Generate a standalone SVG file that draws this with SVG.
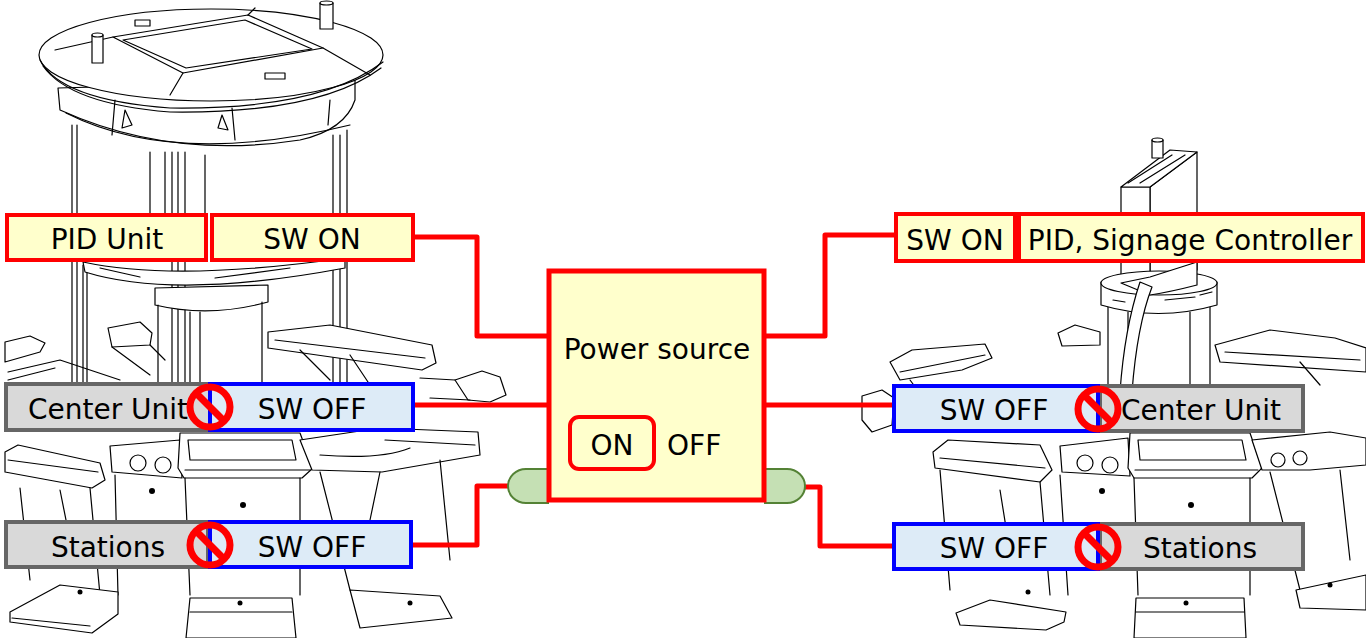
<svg xmlns="http://www.w3.org/2000/svg" width="1366" height="638" viewBox="0 0 1366 638">
<style>
.ln{fill:none;stroke:#000;stroke-width:1.2;stroke-linejoin:round;stroke-linecap:round}
.lw{fill:#fff;stroke:#000;stroke-width:1.2;stroke-linejoin:round}
.wire{fill:none;stroke:#f00;stroke-width:5;stroke-linejoin:round}
.on{fill:#FFFFCC;stroke:#f00;stroke-width:4}
.off{fill:#DDEBF7;stroke:#00f;stroke-width:4}
.unit{fill:#D9D9D9;stroke:#666;stroke-width:4}
.t{font-family:"DejaVu Sans","Liberation Sans",sans-serif;font-size:28px;fill:#000;text-anchor:middle}
.tab{fill:#C5E0B4;stroke:#548235;stroke-width:2}
</style>
<defs>
<g id="no"><circle r="20" fill="none" stroke="#f00" stroke-width="7"/><line x1="-14" y1="-14" x2="14" y2="14" stroke="#f00" stroke-width="7"/></g>
</defs>
<rect width="1366" height="638" fill="#fff"/>

<g id="machine-left">
<!-- columns -->
<path class="ln" d="M72,125 V385 M77,125 V385 M83,265 V385 M87,265 V385 M333,135 V385 M340,135 V385 M347,130 V385"/>
<path class="ln" d="M150,152 V215 M165,152 V215 M172,152 V385 M178,152 V385 M185,152 V385 M205,155 V215"/>
<!-- top disk -->
<path class="lw" d="M58,88 L60,110 Q170,160 300,140 Q345,130 355,100 L355,80 Z"/>
<path class="ln" d="M66,113 Q175,168 350,125"/>
<ellipse class="lw" cx="211" cy="55" rx="172" ry="46"/>
<path class="ln" d="M40,60 Q60,100 170,108 Q320,110 383,62"/>
<path class="ln" d="M43,66 Q70,104 170,112 Q320,114 381,68"/>
<path class="lw" d="M113,37 L248,15 L323,48 L183,73 Z"/>
<path class="ln" d="M123,40 L245,20 L312,49 L186,68 Z M55,50 L113,37 M323,48 L370,75 M248,15 L255,8 M183,73 L170,95"/>
<rect class="lw" x="135" y="20" width="15" height="6"/>
<rect class="lw" x="265" y="73" width="20" height="6"/>
<rect class="lw" x="92" y="35" width="11" height="28"/>
<ellipse class="lw" cx="97.5" cy="35" rx="5.5" ry="2"/>
<rect class="lw" x="320" y="3" width="13" height="26"/>
<ellipse class="lw" cx="326.5" cy="3" rx="6.5" ry="2"/>
<path class="ln" d="M115,100 L112,135 M125,110 L132,125 L122,128 Z M232,108 L235,140 M222,115 L218,128 L228,130 Z M330,100 L328,125"/>
<!-- middle ring -->
<path class="lw" d="M83,262 Q175,282 345,258 L345,268 Q175,300 85,272 Z"/>
<path class="ln" d="M100,268 L140,277 M215,278 L290,268"/>
<path class="lw" d="M155,288 L268,285 L268,302 Q210,318 155,305 Z"/>
<path class="ln" d="M158,305 V385 M262,302 V385 M190,312 V385 M200,312 V385"/>
<!-- station tops row 1 -->
<path class="lw" d="M5,342 L30,336 L45,343 L40,352 L5,362 Z"/>
<path class="ln" d="M8,372 L60,360 L120,380 M8,380 L55,368"/>
<path class="lw" d="M108,328 L140,322 L152,333 L150,345 L112,347 Z"/>
<path class="ln" d="M112,347 L150,375 M150,345 L165,360"/>
<path class="lw" d="M268,332 L330,325 L432,345 L436,363 L422,370 L268,348 Z"/>
<path class="ln" d="M275,340 L425,358 M300,350 L330,380 M350,355 L370,385"/>
<path class="lw" d="M455,380 L482,371 L500,377 L506,395 L490,402 L468,400 Z"/>
<path class="ln" d="M420,378 L455,380 M430,398 L470,400"/>
<!-- station row 2 -->
<path class="lw" d="M5,452 L18,445 L100,463 L105,480 L92,488 L5,472 Z"/>
<path class="ln" d="M8,460 L98,472 M20,488 L30,580 M90,488 L100,595"/>
<path class="lw" d="M110,446 L180,440 L182,478 L112,472 Z"/>
<circle class="ln" cx="138" cy="463" r="8"/><circle class="ln" cx="163" cy="465" r="8"/>
<path class="lw" d="M180,433 L300,433 L313,468 L302,478 L184,478 L178,468 Z"/>
<path class="ln" d="M188,440 L292,440 L296,460 L190,460 Z M185,470 L310,470"/>
<path class="lw" d="M300,440 L380,428 L478,432 L480,455 L382,472 L312,470 Z"/>
<path class="ln" d="M385,440 L475,445 M320,455 Q380,460 410,448"/>
<path class="ln" d="M115,475 L118,595 M185,478 L190,595 M300,478 L300,595 M320,472 L350,590 M380,472 L370,520 M440,460 L450,560 M60,490 L70,540"/>
<!-- bases -->
<path class="lw" d="M10,612 L60,585 L118,592 L118,614 L92,633 L10,622 Z"/>
<path class="ln" d="M12,618 L90,626"/>
<path class="lw" d="M190,598 L292,598 L296,638 L186,638 Z"/>
<path class="ln" d="M190,612 L292,612"/>
<path class="lw" d="M350,590 L440,596 L452,618 L360,628 Z"/>
<circle cx="80" cy="592" r="2.5"/><circle cx="240" cy="603" r="2.5"/><circle cx="410" cy="603" r="2.5"/><circle cx="152" cy="491" r="3"/><circle cx="243" cy="505" r="3"/>
</g>

<g id="machine-right">
<!-- signage -->
<path class="lw" d="M1150,187 L1197,152 L1197,270 L1150,280 Z"/>
<rect class="lw" x="1121" y="187" width="29" height="95"/>
<path class="lw" d="M1121,187 L1150,187 L1197,152 L1170,150 Z"/>
<path class="ln" d="M1128,183 L1172,155 M1140,183 L1185,155"/>
<rect class="lw" x="1152" y="140" width="11" height="18"/>
<ellipse class="lw" cx="1157.5" cy="140" rx="5.5" ry="2"/>
<!-- pillar -->
<path class="ln" d="M1108,305 V390 M1210,305 V390 M1128,312 V390 M1190,312 V390"/>
<path class="lw" d="M1101,282 L1101,305 Q1158,322 1217,305 L1217,282 Z"/>
<ellipse class="lw" cx="1159" cy="283" rx="58" ry="12"/>
<path class="lw" d="M1121,283 L1150,277 L1197,262 L1197,285 Q1170,292 1150,295 Z"/>
<path class="ln" d="M1113,300 L1125,302 M1165,300 L1195,297 M1200,295 L1212,292"/>
<path class="lw" d="M1140,282 C1134,300 1124,335 1120,392 L1132,392 C1136,340 1145,305 1152,287 Z"/>
<!-- station tops row 1 -->
<path class="lw" d="M890,362 L912,350 L985,344 L992,358 L962,370 L900,380 Z"/>
<path class="ln" d="M900,372 L985,355 M910,380 L940,420"/>
<path class="lw" d="M1058,333 L1075,325 L1100,332 L1100,345 L1062,346 Z"/>
<path class="lw" d="M1215,345 L1270,330 L1335,338 L1366,348 L1366,372 L1220,362 Z"/>
<path class="ln" d="M1225,352 L1360,360 M1300,362 L1320,385"/>
<path class="lw" d="M862,396 L882,390 L894,398 L892,425 L872,432 L862,420 Z"/>
<!-- station row 2 -->
<path class="lw" d="M933,452 L948,440 L1040,445 L1052,470 L1040,482 L935,468 Z"/>
<path class="ln" d="M940,458 L1045,468 M940,470 L950,590 M1040,482 L1050,595"/>
<path class="lw" d="M1060,446 L1128,438 L1130,476 L1062,472 Z"/>
<circle class="ln" cx="1085" cy="463" r="8"/><circle class="ln" cx="1110" cy="465" r="8"/>
<path class="lw" d="M1130,433 L1250,433 L1262,468 L1252,478 L1134,478 L1128,468 Z"/>
<path class="ln" d="M1138,440 L1242,440 L1246,460 L1140,460 Z M1135,470 L1258,470"/>
<path class="lw" d="M1252,440 L1330,432 L1366,438 L1366,465 L1310,470 L1262,470 Z"/>
<circle class="ln" cx="1278" cy="460" r="7"/><circle class="ln" cx="1300" cy="458" r="7"/>
<path class="ln" d="M1060,475 L1068,595 M1134,478 L1138,595 M1250,478 L1250,595 M1270,472 L1300,590 M1340,470 L1350,560 M1000,490 L1008,540"/>
<!-- bases -->
<path class="lw" d="M956,613 L990,600 L1066,612 L1064,622 L1046,630 L960,625 Z"/>
<path class="lw" d="M1136,598 L1244,598 L1246,638 L1134,638 Z"/>
<path class="ln" d="M1136,612 L1244,612"/>
<path class="lw" d="M1296,590 L1366,575 L1366,610 L1300,608 Z"/>
<circle cx="1028" cy="592" r="2.5"/><circle cx="1186" cy="603" r="2.5"/><circle cx="1102" cy="491" r="3"/><circle cx="1191" cy="505" r="3"/><circle cx="1330" cy="585" r="2.5"/>
</g>

<g id="connectors">
<path class="wire" d="M413,237 H477 V336 H549"/>
<path class="wire" d="M413,405 H549"/>
<path class="wire" d="M411,545 H477 V486 H512"/>
<path class="wire" d="M764,336 H825 V235 H896"/>
<path class="wire" d="M764,405 H894"/>
<path class="wire" d="M800,487 H820 V546 H894"/>
</g>

<g id="tab-left"><path class="tab" d="M548,469 H526 A18,17 0 0 0 526,503 H548 Z"/></g>
<g id="tab-right"><path class="tab" d="M765,469 H787 A18,17 0 0 1 787,503 H765 Z"/></g>

<g id="power-source">
<rect x="549" y="271" width="215" height="229" fill="#FFFFCC" stroke="#f00" stroke-width="5"/>
<text class="t" x="657" y="359">Power source</text>
<rect x="570" y="417" width="84" height="52" rx="9" fill="none" stroke="#f00" stroke-width="4"/>
<text class="t" x="612" y="455">ON</text>
<text class="t" x="667" y="455" style="text-anchor:start">OFF</text>
</g>

<g id="pid-unit"><rect class="on" x="7" y="215" width="199" height="45"/><text class="t" x="107" y="249">PID Unit</text></g>
<g id="sw-on-left"><rect class="on" x="212" y="215" width="201" height="45"/><text class="t" x="312" y="249">SW ON</text></g>

<g id="center-unit-left"><rect class="unit" x="6" y="384" width="204" height="46"/><text class="t" x="108" y="419">Center Unit</text></g>
<g id="sw-off-center-left"><rect class="off" x="210" y="384" width="203" height="46"/><text class="t" x="312" y="419">SW OFF</text><use href="#no" x="210" y="407"/></g>

<g id="stations-left"><rect class="unit" x="6" y="522" width="202" height="45"/><text class="t" x="108" y="557">Stations</text></g>
<g id="sw-off-stations-left"><rect class="off" x="210" y="522" width="201" height="45"/><text class="t" x="312" y="557">SW OFF</text><use href="#no" x="210" y="545"/></g>

<g id="sw-on-right"><rect class="on" x="896" y="214" width="119" height="47"/><text class="t" x="955" y="250">SW ON</text></g>
<g id="pid-signage"><rect class="on" x="1019" y="214" width="344" height="47"/><text class="t" x="1190" y="250">PID, Signage Controller</text></g>

<g id="center-unit-right"><rect class="unit" x="1100" y="386" width="203" height="45"/><text class="t" x="1201" y="420">Center Unit</text></g>
<g id="sw-off-center-right"><rect class="off" x="894" y="386" width="204" height="45"/><text class="t" x="994" y="420">SW OFF</text><use href="#no" x="1098" y="409"/></g>

<g id="stations-right"><rect class="unit" x="1100" y="524" width="203" height="45"/><text class="t" x="1200" y="558">Stations</text></g>
<g id="sw-off-stations-right"><rect class="off" x="894" y="524" width="204" height="45"/><text class="t" x="994" y="558">SW OFF</text><use href="#no" x="1098" y="547"/></g>
</svg>
